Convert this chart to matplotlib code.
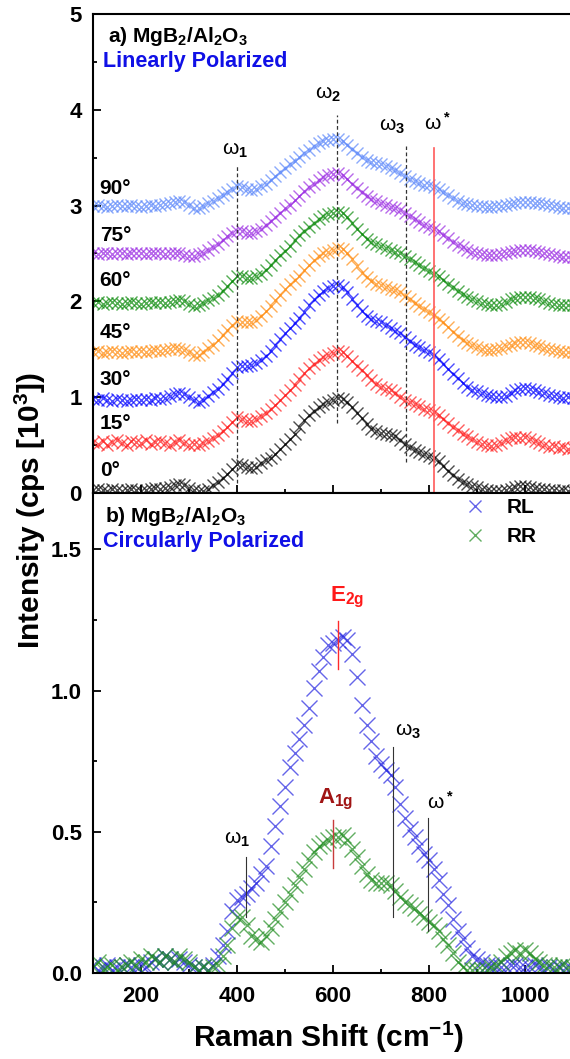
import numpy as np
import matplotlib
matplotlib.use('Agg')
import matplotlib.pyplot as plt
from matplotlib.ticker import MultipleLocator

plt.rcParams['font.family'] = ['Liberation Sans', 'DejaVu Sans']
plt.rcParams['font.weight'] = 'bold'
plt.rcParams['mathtext.fontset'] = 'custom'
plt.rcParams['mathtext.rm'] = 'Liberation Sans'
plt.rcParams['mathtext.bf'] = 'Liberation Sans:bold'
plt.rcParams['mathtext.it'] = 'Liberation Sans:italic'
plt.rcParams['mathtext.default'] = 'bf'

# ---------------- data ----------------
raman_shift = np.arange(100, 1101, 10)

angles = ['0°', '15°', '30°', '45°', '60°', '75°', '90°']
offsets = [0.0, 0.5, 1.0, 1.5, 2.0, 2.5, 3.0]
angle_label_y = [0.24, 0.73, 1.18, 1.68, 2.22, 2.69, 3.18]
angle_colors = ['#000000', '#ff1a1a', '#0000ff', '#ff8c10', '#0a8a0a', '#9a2be2', '#5a86fa']

lin_0 = [0.03, 0.04, 0.03, 0.02, 0.04, 0.03, 0.02, 0.03, 0.04, 0.03,
         0.02, 0.03, 0.04, 0.05, 0.04, 0.05, 0.06, 0.08, 0.09, 0.08,
         0.05, 0.03, 0.02, 0.02, 0.04, 0.08, 0.12, 0.16, 0.20, 0.25,
         0.30, 0.29, 0.27, 0.26, 0.27, 0.31, 0.34, 0.37, 0.41, 0.46,
         0.51, 0.56, 0.62, 0.69, 0.76, 0.81, 0.86, 0.90, 0.93, 0.95,
         0.97, 0.99, 0.98, 0.95, 0.90, 0.84, 0.78, 0.72, 0.67, 0.65,
         0.63, 0.62, 0.61, 0.59, 0.55, 0.51, 0.48, 0.45, 0.43, 0.41,
         0.39, 0.37, 0.33, 0.28, 0.23, 0.19, 0.15, 0.12, 0.09, 0.07,
         0.06, 0.04, 0.03, 0.02, 0.02, 0.02, 0.03, 0.04, 0.06, 0.07,
         0.07, 0.06, 0.05, 0.04, 0.04, 0.03, 0.03, 0.02, 0.03, 0.02,
         0.02]
lin_15 = [0.03, 0.01, 0.04, 0.00, 0.03, 0.05, 0.02, 0.00, 0.04, 0.03,
          0.02, 0.05, 0.01, 0.03, 0.04, 0.02, 0.00, 0.03, 0.05, 0.02,
          0.00, 0.01, 0.00, 0.02, 0.04, 0.07, 0.11, 0.15, 0.19, 0.24,
          0.29, 0.27, 0.25, 0.25, 0.27, 0.30, 0.34, 0.38, 0.42, 0.47,
          0.52, 0.57, 0.63, 0.69, 0.75, 0.80, 0.85, 0.89, 0.92, 0.94,
          0.96, 0.98, 0.97, 0.93, 0.88, 0.83, 0.78, 0.73, 0.68, 0.64,
          0.61, 0.59, 0.57, 0.54, 0.50, 0.47, 0.45, 0.43, 0.41, 0.38,
          0.37, 0.35, 0.31, 0.27, 0.23, 0.19, 0.16, 0.12, 0.09, 0.06,
          0.03, 0.01, 0.00, -0.01, 0.00, 0.02, 0.05, 0.07, 0.08, 0.07,
          0.08, 0.06, 0.04, 0.02, 0.00, -0.02, -0.01, -0.03, -0.02, -0.04,
          -0.03]
lin_30 = [-0.02, -0.03, -0.01, -0.03, -0.04, -0.02, -0.03, -0.04, -0.03, -0.02,
          -0.03, -0.02, -0.03, -0.01, -0.02, -0.01, 0.01, 0.03, 0.04, 0.03,
          0.00, -0.03, -0.05, -0.03, 0.01, 0.05, 0.09, 0.14, 0.19, 0.25,
          0.32, 0.33, 0.33, 0.34, 0.36, 0.39, 0.43, 0.48, 0.54, 0.61,
          0.67, 0.72, 0.77, 0.83, 0.89, 0.96, 1.02, 1.07, 1.11, 1.14,
          1.16, 1.17, 1.15, 1.10, 1.03, 0.96, 0.90, 0.85, 0.82, 0.80,
          0.78, 0.75, 0.72, 0.69, 0.67, 0.63, 0.59, 0.55, 0.52, 0.49,
          0.47, 0.44, 0.40, 0.35, 0.29, 0.24, 0.20, 0.15, 0.11, 0.08,
          0.06, 0.04, 0.02, 0.01, 0.00, 0.00, 0.01, 0.04, 0.07, 0.09,
          0.10, 0.09, 0.07, 0.05, 0.04, 0.02, 0.01, 0.00, -0.01, 0.00,
          -0.01]
lin_45 = [-0.03, -0.02, -0.04, -0.03, -0.02, -0.03, -0.04, -0.03, -0.02, -0.03,
          -0.02, -0.03, -0.02, -0.01, -0.02, -0.01, 0.00, 0.01, 0.00, -0.01,
          -0.03, -0.06, -0.06, -0.03, 0.01, 0.05, 0.10, 0.15, 0.20, 0.25,
          0.30, 0.29, 0.28, 0.29, 0.31, 0.35, 0.40, 0.45, 0.51, 0.57,
          0.63, 0.68, 0.72, 0.77, 0.83, 0.88, 0.93, 0.97, 1.00, 1.02,
          1.04, 1.06, 1.05, 1.01, 0.94, 0.87, 0.80, 0.75, 0.71, 0.68,
          0.67, 0.65, 0.63, 0.62, 0.60, 0.56, 0.52, 0.48, 0.45, 0.42,
          0.39, 0.36, 0.32, 0.28, 0.23, 0.18, 0.14, 0.10, 0.07, 0.04,
          0.02, 0.00, -0.01, -0.01, 0.00, 0.01, 0.03, 0.05, 0.07, 0.08,
          0.08, 0.07, 0.05, 0.03, 0.01, 0.00, -0.01, -0.02, -0.03, -0.03,
          -0.03]
lin_60 = [-0.02, -0.01, -0.03, -0.02, -0.01, -0.02, -0.03, -0.02, -0.01, -0.02,
          -0.03, -0.02, -0.01, -0.02, -0.01, -0.02, -0.01, 0.00, 0.01, 0.00,
          -0.03, -0.05, -0.04, -0.02, 0.01, 0.04, 0.07, 0.11, 0.16, 0.21,
          0.27, 0.26, 0.24, 0.24, 0.26, 0.29, 0.33, 0.38, 0.43, 0.48,
          0.53, 0.58, 0.64, 0.69, 0.74, 0.78, 0.82, 0.86, 0.89, 0.91,
          0.92, 0.93, 0.92, 0.88, 0.82, 0.76, 0.70, 0.65, 0.62, 0.60,
          0.58, 0.56, 0.54, 0.52, 0.50, 0.47, 0.44, 0.41, 0.38, 0.35,
          0.32, 0.29, 0.26, 0.22, 0.18, 0.15, 0.11, 0.08, 0.05, 0.02,
          0.00, -0.02, -0.03, -0.04, -0.04, -0.03, -0.01, 0.02, 0.04, 0.05,
          0.05, 0.05, 0.04, 0.02, 0.00, -0.02, -0.03, -0.04, -0.04, -0.04,
          -0.04]
lin_75 = [0.00, -0.01, 0.01, 0.00, -0.01, 0.00, 0.01, -0.01, 0.00, 0.01,
          0.00, -0.01, 0.00, 0.01, 0.00, -0.01, 0.00, 0.01, 0.00, -0.02,
          -0.03, -0.03, -0.01, 0.01, 0.04, 0.07, 0.10, 0.14, 0.18, 0.21,
          0.24, 0.23, 0.21, 0.21, 0.23, 0.26, 0.30, 0.34, 0.38, 0.42,
          0.47, 0.51, 0.56, 0.60, 0.65, 0.69, 0.73, 0.77, 0.80, 0.82,
          0.83, 0.84, 0.82, 0.78, 0.73, 0.68, 0.64, 0.60, 0.57, 0.55,
          0.53, 0.51, 0.49, 0.47, 0.45, 0.42, 0.39, 0.36, 0.33, 0.30,
          0.28, 0.26, 0.23, 0.19, 0.16, 0.12, 0.09, 0.07, 0.04, 0.02,
          0.00, -0.01, -0.02, -0.02, -0.02, -0.01, 0.00, 0.02, 0.03, 0.04,
          0.04, 0.04, 0.03, 0.02, 0.00, -0.01, -0.02, -0.03, -0.04, -0.04,
          -0.04]
lin_90 = [0.00, 0.01, 0.00, -0.01, 0.00, 0.01, 0.00, 0.00, 0.01, 0.00,
          -0.01, 0.00, 0.01, 0.00, 0.01, 0.02, 0.03, 0.04, 0.05, 0.04,
          0.01, -0.02, -0.02, 0.00, 0.03, 0.05, 0.08, 0.11, 0.14, 0.17,
          0.20, 0.19, 0.17, 0.16, 0.17, 0.20, 0.23, 0.27, 0.31, 0.35,
          0.39, 0.43, 0.47, 0.51, 0.55, 0.58, 0.62, 0.65, 0.67, 0.68,
          0.69, 0.69, 0.67, 0.63, 0.59, 0.55, 0.51, 0.48, 0.46, 0.44,
          0.43, 0.41, 0.39, 0.37, 0.34, 0.31, 0.28, 0.26, 0.24, 0.22,
          0.21, 0.19, 0.17, 0.14, 0.11, 0.08, 0.05, 0.03, 0.02, 0.01,
          0.00, 0.00, -0.01, -0.01, 0.00, 0.00, 0.01, 0.02, 0.03, 0.04,
          0.04, 0.04, 0.03, 0.03, 0.02, 0.01, 0.00, -0.01, -0.02, -0.03,
          -0.03]
linear_series = [lin_0, lin_15, lin_30, lin_45, lin_60, lin_75, lin_90]

circ_RL = [0.03, 0.01, 0.02, 0.03, 0.01, 0.02, 0.02, 0.03, 0.02, 0.02,
           0.03, 0.02, 0.04, 0.05, 0.04, 0.06, 0.05, 0.04, 0.05, 0.04,
           0.03, 0.02, 0.01, 0.02, 0.01, 0.03, 0.06, 0.10, 0.15, 0.22,
           0.26, 0.27, 0.28, 0.30, 0.32, 0.35, 0.38, 0.45, 0.52, 0.59,
           0.66, 0.73, 0.78, 0.83, 0.88, 0.94, 1.01, 1.07, 1.12, 1.16,
           1.17, 1.18, 1.19, 1.18, 1.13, 1.05, 0.95, 0.88, 0.82, 0.77,
           0.74, 0.72, 0.70, 0.66, 0.60, 0.55, 0.51, 0.48, 0.45, 0.42,
           0.40, 0.37, 0.33, 0.28, 0.24, 0.19, 0.15, 0.12, 0.09, 0.06,
           0.05, 0.04, 0.03, 0.03, 0.02, 0.02, 0.02, 0.03, 0.03, 0.02,
           0.02, 0.02, 0.03, 0.02, 0.01, 0.02, 0.01, 0.02, 0.01, 0.01,
           0.01]
circ_RR = [0.02, 0.04, 0.01, 0.02, 0.03, 0.01, 0.02, 0.03, 0.04, 0.03,
           0.05, 0.04, 0.06, 0.05, 0.04, 0.06, 0.05, 0.04, 0.06, 0.05,
           0.04, 0.02, 0.01, 0.02, 0.01, 0.02, 0.03, 0.06, 0.10, 0.16,
           0.20, 0.20, 0.17, 0.13, 0.12, 0.11, 0.13, 0.16, 0.19, 0.22,
           0.25, 0.28, 0.31, 0.34, 0.37, 0.40, 0.43, 0.45, 0.46, 0.47,
           0.48, 0.48, 0.49, 0.47, 0.44, 0.41, 0.38, 0.35, 0.33, 0.32,
           0.32, 0.32, 0.31, 0.29, 0.27, 0.25, 0.24, 0.23, 0.21, 0.20,
           0.18, 0.17, 0.15, 0.12, 0.10, 0.07, 0.04, 0.02, 0.01, 0.01,
           0.01, 0.01, 0.01, 0.02, 0.03, 0.04, 0.06, 0.07, 0.08, 0.07,
           0.08, 0.07, 0.05, 0.04, 0.03, 0.03, 0.02, 0.02, 0.03, 0.02,
           0.02]

# mode markers (top panel): position, line bottom, line top, label, label position
top_modes_x = [400, 608, 752]
top_modes_ymin = [0.10, 0.73, 0.32]
top_modes_ymax = [3.42, 3.95, 3.62]
top_mode_labels = ['ω$_1$', 'ω$_2$', 'ω$_3$']
top_mode_label_xy = [(396, 3.58), (590, 4.16), (724, 3.83)]
omega_star_x = 810
omega_star_ymax = 3.60
omega_star_label_xy = (818, 3.86)

# bottom panel annotations
bot_modes_x = [419, 725, 798]
bot_modes_ymin = [0.20, 0.20, 0.15]
bot_modes_ymax = [0.41, 0.80, 0.55]
bot_mode_labels = ['ω$_1$', 'ω$_3$', 'ω$^*$']
bot_mode_label_xy = [(401, 0.475), (756, 0.855), (823, 0.605)]
E2g_x, E2g_ymin, E2g_ymax = 610, 1.075, 1.245
A1g_x, A1g_ymin, A1g_ymax = 600, 0.372, 0.543

# ---------------- figure ----------------
W, H = 570, 1059
fig = plt.figure(figsize=(W / 100, H / 100), dpi=100)
ax1 = fig.add_axes([93 / W, 1 - 493 / H, 480 / W, 479 / H])
ax2 = fig.add_axes([93 / W, 1 - 973 / H, 480 / W, 480 / H])

for ax in (ax1, ax2):
    ax.set_xlim(100, 1100)
    for sp in ax.spines.values():
        sp.set_linewidth(1.5)
    ax.xaxis.set_major_locator(MultipleLocator(200))
    ax.xaxis.set_minor_locator(MultipleLocator(100))
    ax.tick_params(which='both', direction='in', width=1.3, labelsize=16,
                   top=False, right=False)
    ax.tick_params(which='major', length=6)
    ax.tick_params(which='minor', length=3)
    ax.tick_params(axis='y', pad=8)
    ax.tick_params(axis='x', pad=9)

ax1.set_ylim(0, 5)
ax1.yaxis.set_major_locator(MultipleLocator(1))
ax1.yaxis.set_minor_locator(MultipleLocator(0.5))
ax1.tick_params(labelbottom=False)

ax2.set_ylim(0, 1.7)
ax2.yaxis.set_major_locator(MultipleLocator(0.5))
ax2.yaxis.set_minor_locator(MultipleLocator(0.25))
ax2.yaxis.set_major_formatter(matplotlib.ticker.FormatStrFormatter('%.1f'))

# top panel spectra
for name, vals, off, col, ly in zip(angles, linear_series, offsets, angle_colors, angle_label_y):
    y = np.array(vals) + off
    ax1.plot(raman_shift, y, linestyle='none', marker='x', markersize=8,
             markeredgewidth=1.0, color=col, alpha=0.7)
    ax1.text(114, ly, name, fontsize=15, fontweight='bold', ha='left', va='center')

for xm, y0, y1 in zip(top_modes_x, top_modes_ymin, top_modes_ymax):
    ax1.plot([xm, xm], [y0, y1], color='#333333', lw=0.9, linestyle=(0, (3, 2)), zorder=4)
for lab, (tx, ty) in zip(top_mode_labels, top_mode_label_xy):
    ax1.text(tx, ty, lab, fontsize=15, fontweight='normal', ha='center', va='center')
ax1.plot([omega_star_x, omega_star_x], [0, omega_star_ymax], color='#ff5a5a', lw=1.2, zorder=4)
ax1.text(omega_star_label_xy[0], omega_star_label_xy[1], 'ω$^*$', fontsize=15,
         fontweight='normal', ha='center', va='center')

ax1.text(0.031, 0.952, 'a) MgB$_2$/Al$_2$O$_3$', transform=ax1.transAxes,
         fontsize=15, fontweight='bold', ha='left', va='center')
ax1.text(0.021, 0.900, 'Linearly Polarized', transform=ax1.transAxes,
         fontsize=15.5, fontweight='bold', color='#1010e6', ha='left', va='center')

# bottom panel spectra
ax2.plot(raman_shift, circ_RL, linestyle='none', marker='x', markersize=11,
         markeredgewidth=1.0, color='#2424e0', alpha=0.7, label='RL')
ax2.plot(raman_shift, circ_RR, linestyle='none', marker='x', markersize=11,
         markeredgewidth=1.0, color='#1f8c1f', alpha=0.7, label='RR')

for xm, y0, y1 in zip(bot_modes_x, bot_modes_ymin, bot_modes_ymax):
    ax2.plot([xm, xm], [y0, y1], color='#333333', lw=0.8, zorder=4)
for lab, (tx, ty) in zip(bot_mode_labels, bot_mode_label_xy):
    ax2.text(tx, ty, lab, fontsize=15, fontweight='normal', ha='center', va='center')
ax2.plot([E2g_x, E2g_x], [E2g_ymin, E2g_ymax], color='#ff2a2a', lw=1.0, zorder=4)
ax2.text(629, 1.33, 'E$_{2g}$', fontsize=16, fontweight='bold', color='#ff1a1a',
         ha='center', va='center')
ax2.plot([A1g_x, A1g_x], [A1g_ymin, A1g_ymax], color='#c83c3c', lw=1.0, zorder=4)
ax2.text(606, 0.615, 'A$_{1g}$', fontsize=16, fontweight='bold', color='#a01414',
         ha='center', va='center')

ax2.text(0.025, 0.950, 'b) MgB$_2$/Al$_2$O$_3$', transform=ax2.transAxes,
         fontsize=15, fontweight='bold', ha='left', va='center')
ax2.text(0.021, 0.900, 'Circularly Polarized', transform=ax2.transAxes,
         fontsize=15.5, fontweight='bold', color='#1010e6', ha='left', va='center')

leg = ax2.legend(loc='upper left', bbox_to_anchor=(0.775, 0.99), frameon=False,
                 fontsize=15, handlelength=1.0, handletextpad=1.0,
                 borderpad=0, borderaxespad=0, labelspacing=0.5, markerscale=0.85)
for t in leg.get_texts():
    t.set_fontweight('bold')

fig.text(30 / W, 1 - 510 / H, 'Intensity (cps [10$^3$])', rotation=90,
         fontsize=21.5, fontweight='bold', ha='center', va='center')
fig.text(329 / W, 1 - 1037 / H, 'Raman Shift (cm$^{-1}$)',
         fontsize=21.5, fontweight='bold', ha='center', va='center')

fig.savefig('out.png', dpi=100)
